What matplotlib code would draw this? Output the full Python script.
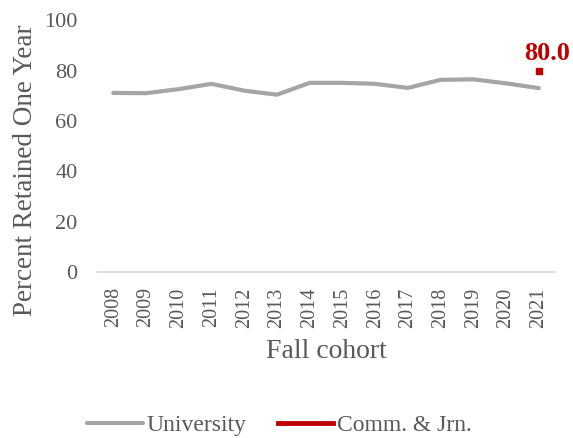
import numpy as np
import matplotlib.pyplot as plt

years = [str(y) for y in range(2008, 2022)]
university = [71.1, 71.0, 72.6, 74.7, 72.0, 70.4, 75.1, 75.1, 74.7, 73.1, 76.3, 76.5, 74.9, 73.0]
comm_jrn = [None] * 13 + [80.0]

plt.rcParams['font.family'] = ['Liberation Serif', 'DejaVu Serif']
text_c = '#595959'

fig = plt.figure(figsize=(5.73, 4.38), dpi=100)
ax = fig.add_axes([0.169, 0.379, 0.80, 0.575])

x = np.arange(len(years))
ax.plot(x, university, color='#a5a5a5', lw=3, solid_capstyle='round', label='University')
cj = np.array([np.nan if v is None else v for v in comm_jrn], dtype=float)
ax.plot(x, cj, color='#c00000', lw=3.5, marker='s', ms=4.5, label='Comm. & Jrn.')
ax.annotate('80.0', (x[-1], cj[-1]), xytext=(6, 4), textcoords='offset points',
            ha='center', va='bottom', color='#c00000', fontsize=19, fontweight='bold',
            annotation_clip=False)

ax.set_ylim(0, 100)
ax.set_xlim(-0.5, len(years) - 0.5)
ax.set_yticks(range(0, 101, 20))
ax.set_xticks(x)
ax.set_xticklabels(years, rotation=90)
ax.tick_params(length=0, labelcolor=text_c)
ax.tick_params(axis='y', pad=14, labelsize=16)
ax.tick_params(axis='x', pad=11, labelsize=14.5)
for s in ['top', 'right', 'left']:
    ax.spines[s].set_visible(False)
ax.spines['bottom'].set_color('#d9d9d9')
ax.spines['bottom'].set_linewidth(1.2)

ax.set_ylabel('Percent Retained One Year', fontsize=19.5, color=text_c)
ax.yaxis.set_label_coords(-0.128, 0.405)
ax.set_xlabel('Fall cohort', fontsize=20, color=text_c, labelpad=8)

leg = fig.legend(loc='lower center', bbox_to_anchor=(0.488, -0.045), ncol=2, frameon=False,
                 fontsize=17, handlelength=2.35, handletextpad=0.17, columnspacing=1.3)
leg.legend_handles[1].set_marker('')
for t in leg.get_texts():
    t.set_color(text_c)

fig.savefig('out.png', dpi=100)
